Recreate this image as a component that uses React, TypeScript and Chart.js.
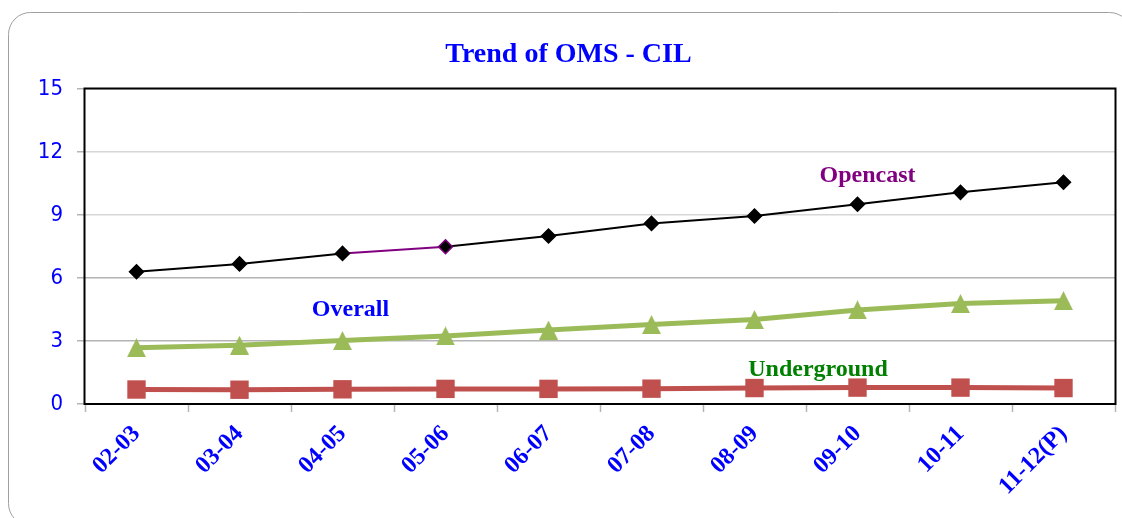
import React, { useEffect, useRef } from 'react';
import { Chart, registerables } from 'chart.js';

Chart.register(...registerables);

const categories = ['02-03', '03-04', '04-05', '05-06', '06-07', '07-08', '08-09', '09-10', '10-11', '11-12(P)'];
const opencast = [6.3, 6.67, 7.17, 7.49, 8.0, 8.6, 8.95, 9.51, 10.08, 10.56];
const overall = [2.68, 2.8, 3.02, 3.24, 3.52, 3.78, 4.02, 4.48, 4.78, 4.92];
const underground = [0.69, 0.68, 0.7, 0.72, 0.72, 0.73, 0.76, 0.78, 0.78, 0.76];
const yMin = 0;
const yMax = 15;
const yStep = 3;
const titleText = 'Trend of OMS - CIL';
const seriesLabels = ['Opencast', 'Overall', 'Underground'];

const BLUE = '#0000ff';
const SERIF = "'Liberation Serif', 'Times New Roman', serif";
const NARROW = "'Liberation Sans Narrow', 'Arial Narrow', 'DejaVu Sans Condensed', sans-serif";

function makeTriangle(w: number, h: number, color: string): HTMLCanvasElement {
  const c = document.createElement('canvas');
  c.width = w;
  c.height = h;
  const g = c.getContext('2d')!;
  g.fillStyle = color;
  g.beginPath();
  g.moveTo(w / 2, 0);
  g.lineTo(w, h);
  g.lineTo(0, h);
  g.closePath();
  g.fill();
  return c;
}

function roundRectPath(ctx: CanvasRenderingContext2D, x: number, y: number, w: number, h: number, r: number) {
  ctx.beginPath();
  ctx.moveTo(x + r, y);
  ctx.arcTo(x + w, y, x + w, y + h, r);
  ctx.arcTo(x + w, y + h, x, y + h, r);
  ctx.arcTo(x, y + h, x, y, r);
  ctx.arcTo(x, y, x + w, y, r);
  ctx.closePath();
}

const decoPlugin = {
  id: 'deco',
  beforeDraw(chart: any) {
    const ctx: CanvasRenderingContext2D = chart.ctx;
    ctx.save();
    ctx.fillStyle = '#ffffff';
    ctx.fillRect(0, 0, chart.width, chart.height);
    ctx.strokeStyle = '#a0a0a0';
    ctx.lineWidth = 1;
    roundRectPath(ctx, 8.5, 12.5, 1123, 513, 22);
    ctx.stroke();
    ctx.restore();
  },
  beforeDatasetsDraw(chart: any) {
    const ctx: CanvasRenderingContext2D = chart.ctx;
    const { left, top, right, bottom } = chart.chartArea;
    ctx.save();
    ctx.strokeStyle = '#000000';
    ctx.lineWidth = 2;
    ctx.strokeRect(left - 0.5, top - 0.5, right - left + 1, bottom - top + 0.5);
    ctx.restore();
  },
  afterDraw(chart: any) {
    const ctx: CanvasRenderingContext2D = chart.ctx;
    ctx.save();
    ctx.textAlign = 'center';
    ctx.textBaseline = 'alphabetic';
    ctx.font = `bold 28px ${SERIF}`;
    ctx.fillStyle = BLUE;
    ctx.fillText(titleText, 568.5, 62);
    ctx.font = `bold 24px ${SERIF}`;
    ctx.fillStyle = '#800080';
    ctx.fillText(seriesLabels[0], 867.5, 182);
    ctx.fillStyle = BLUE;
    ctx.fillText(seriesLabels[1], 350.5, 316);
    ctx.fillStyle = '#008000';
    ctx.fillText(seriesLabels[2], 818, 376);
    ctx.restore();
  },
};

export default function App() {
  const ref = useRef<HTMLCanvasElement | null>(null);

  useEffect(() => {
    if (!ref.current) return;
    const tri = makeTriangle(19, 19, '#9bbb59');
    const ocBorder = opencast.map((_, i) => (i === 3 ? '#800080' : '#000000'));
    const chart = new Chart(ref.current, {
      type: 'line',
      data: {
        labels: categories,
        datasets: [
          {
            label: seriesLabels[2],
            data: underground,
            borderColor: '#c0504d',
            backgroundColor: '#c0504d',
            borderWidth: 5,
            pointStyle: 'rect',
            pointRadius: 13,
            pointBorderWidth: 0,
            pointBackgroundColor: '#c0504d',
            tension: 0,
          },
          {
            label: seriesLabels[1],
            data: overall,
            borderColor: '#9bbb59',
            backgroundColor: '#9bbb59',
            borderWidth: 5,
            pointStyle: tri as any,
            pointRadius: 10,
            tension: 0,
          },
          {
            label: seriesLabels[0],
            data: opencast,
            borderColor: '#000000',
            backgroundColor: '#000000',
            borderWidth: 2,
            pointStyle: 'rectRot',
            pointRadius: 7,
            pointBorderWidth: 1.5,
            pointBorderColor: ocBorder,
            pointBackgroundColor: '#000000',
            tension: 0,
            segment: {
              borderColor: (c: any) => (c.p0DataIndex === 2 ? '#800080' : '#000000'),
            },
          },
        ],
      },
      options: {
        responsive: false,
        animation: false,
        events: [],
        layout: { autoPadding: false, padding: { left: 0, right: 7, top: 89, bottom: 0 } },
        plugins: {
          legend: { display: false },
          title: { display: false },
          tooltip: { enabled: false },
        },
        scales: {
          x: {
            type: 'category',
            offset: true,
            grid: {
              offset: true,
              drawOnChartArea: false,
              drawTicks: true,
              tickLength: 8,
              tickColor: '#b4b4b4',
              tickWidth: 1.5,
            },
            border: { display: false },
            ticks: {
              autoSkip: false,
              minRotation: 45,
              maxRotation: 45,
              padding: 8,
              color: BLUE,
              font: { family: SERIF, size: 24, weight: 'bold' },
            },
            afterFit: (s: any) => {
              s.height = 114;
              s.paddingLeft = 0;
              s.paddingRight = 0;
            },
          },
          y: {
            min: yMin,
            max: yMax,
            grid: {
              color: (c: any) => (c.tick && c.tick.value <= 6 ? '#b4b4b4' : '#d6d6d6'),
              lineWidth: 1.5,
              drawTicks: true,
              tickLength: 8,
              tickColor: '#b4b4b4',
            },
            border: { display: false },
            ticks: {
              stepSize: yStep,
              padding: 14,
              color: BLUE,
              font: { family: NARROW, size: 22 },
            },
            afterFit: (s: any) => {
              s.width = 85;
              s.paddingTop = 0;
              s.paddingBottom = 0;
            },
          },
        },
      },
      plugins: [decoPlugin],
    });
    return () => chart.destroy();
  }, []);

  return (
    <canvas
      ref={ref}
      width={1122}
      height={518}
      style={{ position: 'fixed', left: 0, top: 0, width: 1122, height: 518, display: 'block' }}
    />
  );
}
